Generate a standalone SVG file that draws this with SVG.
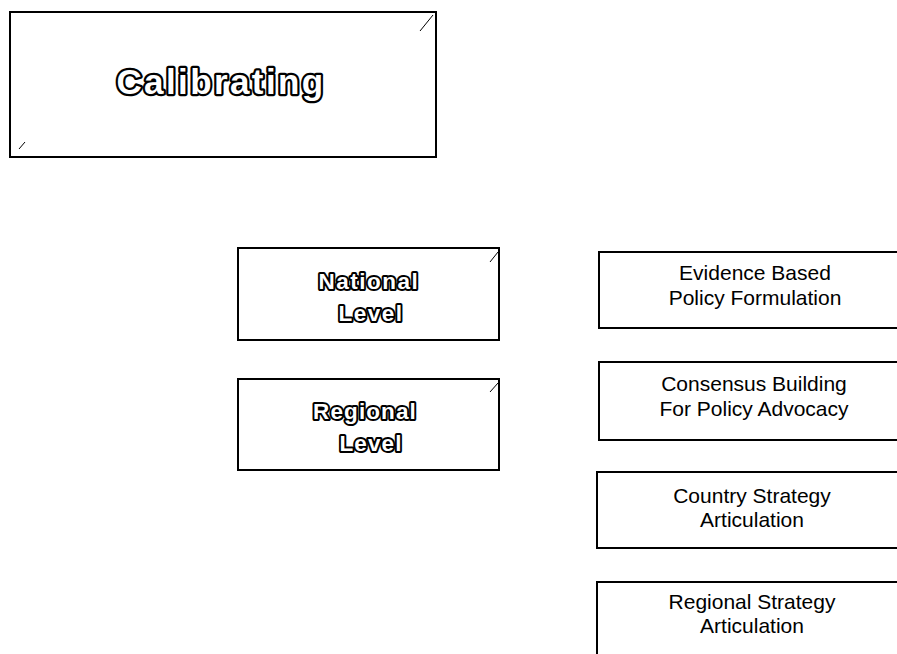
<svg xmlns="http://www.w3.org/2000/svg" width="897" height="654" viewBox="0 0 897 654">
  <style>
    .box { fill: #ffffff; stroke: #000000; stroke-width: 2; }
    .tick { stroke: #000000; stroke-width: 1; fill: none; }
    .outline { font-family: "Liberation Sans", Arial, sans-serif; font-weight: bold; fill: #ffffff; stroke: #000000; stroke-linejoin: round; paint-order: stroke; text-anchor: middle; }
    .plain { font-family: "Liberation Sans", Arial, sans-serif; font-size: 21px; fill: #000000; text-anchor: middle; }
  </style>
  <rect width="897" height="654" fill="#ffffff"/>

  <!-- title box -->
  <g id="calibrating">
    <rect class="box" x="10" y="12" width="426" height="145"/>
    <line class="tick" x1="433" y1="15" x2="420" y2="31"/>
    <line class="tick" x1="25" y1="142" x2="19" y2="149"/>
    <text class="outline" x="221" y="94" font-size="35" letter-spacing="2.4" stroke-width="4.5">Calibrating</text>
  </g>

  <!-- level boxes -->
  <g id="national-level">
    <rect class="box" x="238" y="248" width="261" height="92"/>
    <line class="tick" x1="498" y1="252" x2="490" y2="262"/>
    <text class="outline" font-size="22.5" letter-spacing="1.5" stroke-width="4"><tspan x="369" y="289">National</tspan><tspan x="371" y="321">Level</tspan></text>
  </g>

  <g id="regional-level">
    <rect class="box" x="238" y="379" width="261" height="91"/>
    <line class="tick" x1="498" y1="383" x2="490" y2="392"/>
    <text class="outline" font-size="22.5" letter-spacing="1.1" stroke-width="4"><tspan x="365" y="419">Regional</tspan><tspan x="371" y="451">Level</tspan></text>
  </g>

  <!-- activity boxes (run off the right edge) -->
  <g id="evidence-based">
    <rect class="box" x="599" y="252" width="310" height="76"/>
    <text class="plain"><tspan x="755" y="280">Evidence Based</tspan><tspan x="755" y="305">Policy Formulation</tspan></text>
  </g>

  <g id="consensus-building">
    <rect class="box" x="599" y="362" width="310" height="78"/>
    <text class="plain"><tspan x="754" y="391">Consensus Building</tspan><tspan x="754" y="416">For Policy Advocacy</tspan></text>
  </g>

  <g id="country-strategy">
    <rect class="box" x="597" y="472" width="312" height="76"/>
    <text class="plain"><tspan x="752" y="503">Country Strategy</tspan><tspan x="752" y="527">Articulation</tspan></text>
  </g>

  <g id="regional-strategy">
    <rect class="box" x="597" y="582" width="312" height="90"/>
    <text class="plain"><tspan x="752" y="609">Regional Strategy</tspan><tspan x="752" y="633">Articulation</tspan></text>
  </g>

  <g id="connectors"></g>
</svg>
